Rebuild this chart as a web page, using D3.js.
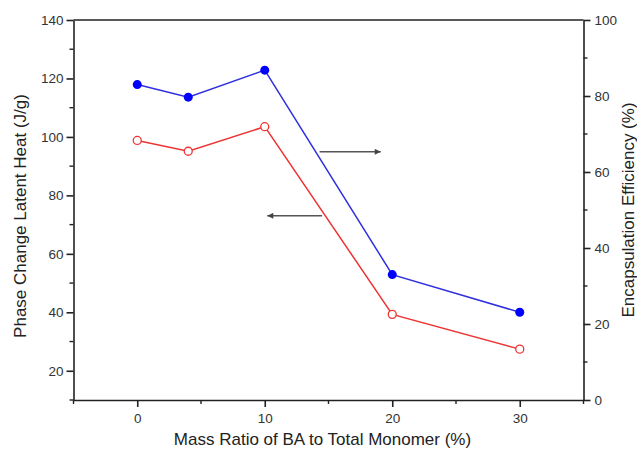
<!DOCTYPE html>
<html>
<head>
<meta charset="utf-8">
<script src="https://cdn.jsdelivr.net/npm/d3@7"></script>
<style>
  body { margin: 0; background: #fff; }
  svg { font-family: "Liberation Sans", Arial, sans-serif; }
  .axis path, .axis line { stroke: #222; stroke-width: 1.6; }
  .axis text { font-size: 13.5px; fill: #333; }
  .title { font-size: 17px; fill: #222; }
</style>
</head>
<body>
<svg id="chart" width="637" height="451"></svg>
<script>
// data
const ratios = [0, 4, 10, 20, 30];
const latentHeat = [98.8, 95.1, 103.5, 39.3, 27.4];   // left axis, red open circles
const efficiency = [83.0, 79.7, 86.8, 33.0, 23.1];    // right axis, blue filled dots
const xTicks = [0, 10, 20, 30];
const leftTicks = [20, 40, 60, 80, 100, 120, 140];
const rightTicks = [0, 20, 40, 60, 80, 100];

const width = 637, height = 451;
const margin = { left: 73.5, right: 53.5, top: 20, bottom: 51 };

const svg = d3.select("#chart");

const x = d3.scaleLinear().domain([-5, 35]).range([margin.left, width - margin.right]);
const yL = d3.scaleLinear().domain([10, 140]).range([height - margin.bottom, margin.top]);
const yR = d3.scaleLinear().domain([0, 100]).range([height - margin.bottom, margin.top]);

// minor ticks first, then major axes on top
const minor = svg.append("g").attr("stroke", "#222").attr("stroke-width", 1.4);
d3.range(-5, 36, 5).filter(v => !xTicks.includes(v)).forEach(v => {
    minor.append("line").attr("x1", x(v)).attr("x2", x(v))
        .attr("y1", yL(10)).attr("y2", yL(10) + 4);
});
d3.range(10, 141, 10).filter(v => !leftTicks.includes(v)).forEach(v => {
    minor.append("line").attr("x1", x(-5)).attr("x2", x(-5) - 4)
        .attr("y1", yL(v)).attr("y2", yL(v));
});
d3.range(10, 100, 20).forEach(v => {
    minor.append("line").attr("x1", x(35)).attr("x2", x(35) + 4)
        .attr("y1", yR(v)).attr("y2", yR(v));
});

svg.append("g").attr("class", "axis")
    .attr("transform", `translate(0,${yL(10)})`)
    .call(d3.axisBottom(x).tickValues(xTicks).tickSize(7).tickPadding(6).tickSizeOuter(0));

svg.append("g").attr("class", "axis")
    .attr("transform", `translate(${x(-5)},0)`)
    .call(d3.axisLeft(yL).tickValues(leftTicks).tickSize(7).tickPadding(3).tickSizeOuter(0));

svg.append("g").attr("class", "axis")
    .attr("transform", `translate(${x(35)},0)`)
    .call(d3.axisRight(yR).tickValues(rightTicks).tickSize(7).tickPadding(4).tickSizeOuter(0));

// top border
svg.append("line")
    .attr("x1", x(-5)).attr("x2", x(35))
    .attr("y1", yL(140)).attr("y2", yL(140))
    .attr("stroke", "#222").attr("stroke-width", 1.6);

// series
const redLine = d3.line().x((d, i) => x(ratios[i])).y(d => yL(d));
const blueLine = d3.line().x((d, i) => x(ratios[i])).y(d => yR(d));

svg.append("path").datum(efficiency)
    .attr("d", blueLine).attr("fill", "none")
    .attr("stroke", "#2f2fe0").attr("stroke-width", 1.5);

svg.append("path").datum(latentHeat)
    .attr("d", redLine).attr("fill", "none")
    .attr("stroke", "#ee3333").attr("stroke-width", 1.5);

svg.selectAll(".dot-blue").data(efficiency).enter()
    .append("circle")
    .attr("cx", (d, i) => x(ratios[i])).attr("cy", d => yR(d))
    .attr("r", 4.5).attr("fill", "#0000ff");

svg.selectAll(".dot-red").data(latentHeat).enter()
    .append("circle")
    .attr("cx", (d, i) => x(ratios[i])).attr("cy", d => yL(d))
    .attr("r", 4).attr("fill", "#fff")
    .attr("stroke", "#ee3333").attr("stroke-width", 1.3);

// arrows pointing to the axis each series belongs to
svg.append("defs").append("marker")
    .attr("id", "head").attr("viewBox", "0 0 10 10")
    .attr("refX", 10).attr("refY", 5)
    .attr("markerWidth", 10).attr("markerHeight", 6)
    .attr("markerUnits", "userSpaceOnUse")
    .attr("orient", "auto")
    .append("path").attr("d", "M0,0L10,5L0,10Z").attr("fill", "#444");

svg.append("line")
    .attr("x1", x(14.3)).attr("x2", x(19.1))
    .attr("y1", yR(65.3)).attr("y2", yR(65.3))
    .attr("stroke", "#555").attr("stroke-width", 1.5)
    .attr("marker-end", "url(#head)");

svg.append("line")
    .attr("x1", x(14.5)).attr("x2", x(10.2))
    .attr("y1", yL(73)).attr("y2", yL(73))
    .attr("stroke", "#555").attr("stroke-width", 1.5)
    .attr("marker-end", "url(#head)");

// axis titles
svg.append("text").attr("class", "title")
    .attr("x", (x(-5) + x(35)) / 2 - 6).attr("y", 445)
    .attr("text-anchor", "middle")
    .text("Mass Ratio of BA to Total Monomer (%)");

svg.append("text").attr("class", "title")
    .attr("transform", `translate(26,${(yL(10) + yL(140)) / 2 + 6}) rotate(-90)`)
    .attr("text-anchor", "middle")
    .text("Phase Change Latent Heat (J/g)");

svg.append("text").attr("class", "title")
    .attr("transform", `translate(634,${(yR(0) + yR(100)) / 2}) rotate(-90)`)
    .attr("text-anchor", "middle")
    .text("Encapsulation Efficiency (%)");
</script>
</body>
</html>
